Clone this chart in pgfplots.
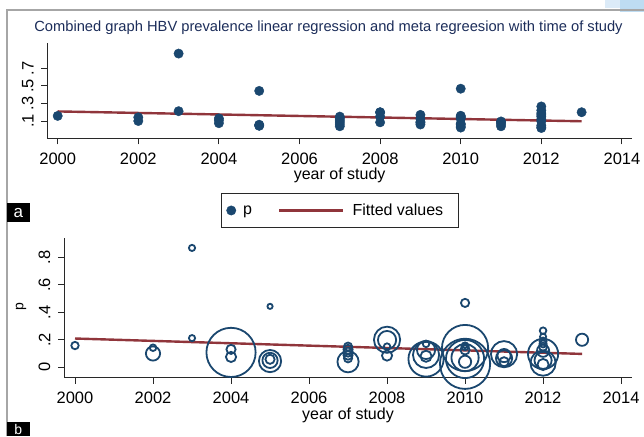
\documentclass[border=0pt]{standalone}
\usepackage{fontspec}
\setmainfont{Liberation Sans}
\usepackage{pgfplots}
\pgfplotsset{compat=1.18}
\usepackage{pgfplotstable}
\definecolor{navyc}{RGB}{26,71,111}
\definecolor{maroonc}{RGB}{144,53,59}
\definecolor{titlec}{RGB}{28,45,90}
\definecolor{axisc}{RGB}{40,40,40}
\definecolor{decoa}{RGB}{220,235,248}
\definecolor{decob}{RGB}{190,220,242}

\pgfplotstableread{
year p r
2000 0.158 4.6
2002 0.142 4.2
2002 0.100 8
2003 0.868 4
2003 0.212 4
2004 0.130 5.5
2004 0.075 6
2004 0.108 25.5
2005 0.443 3.5
2005 0.045 12
2005 0.050 8.5
2005 0.058 5.5
2007 0.150 5
2007 0.130 5.5
2007 0.110 5.5
2007 0.088 5.5
2007 0.065 5
2007 0.040 11.5
2008 0.200 14
2008 0.198 10
2008 0.150 4.2
2008 0.085 6
2009 0.170 4.2
2009 0.126 10
2009 0.090 14
2009 0.060 18.5
2009 0.080 6.5
2010 0.468 5
2010 0.140 24
2010 0.025 26
2010 0.060 20
2010 0.070 14.5
2010 0.040 7
2010 0.126 5.5
2010 0.150 4.5
2010 0.160 3.8
2011 0.095 14
2011 0.085 7.5
2011 0.065 9
2011 0.040 5.5
2012 0.266 4.2
2012 0.222 4
2012 0.190 4.5
2012 0.170 4.5
2012 0.150 5
2012 0.120 7
2012 0.097 16
2012 0.030 13.5
2012 0.050 9.5
2012 0.020 6.5
2013 0.200 7
}\studies

\pgfplotstableread{
year fit
2000 0.209
2013 0.097
}\fitted

\pgfplotsset{
  stata/.style={
    scale only axis,
    axis x line*=bottom, axis y line*=left,
    every outer x axis line/.append style={-},
    every outer y axis line/.append style={-},
    axis line style={axisc, line width=0.9pt, -},
    tick style={axisc, line width=0.9pt},
    tick align=outside,
    major tick length=6pt,
    xtick={2000,2002,2004,2006,2008,2010,2012,2014},
    xticklabels={2000,2002,2004,2006,2008,2010,2012,2014},
    tick label style={font=\fontsize{16.5}{18}\selectfont, inner sep=0pt},
    xticklabel style={anchor=north},
    xticklabel shift=8.5pt,
    yticklabel style={rotate=90, anchor=south},
    yticklabel shift=7.5pt,
    xlabel={year of study},
    label style={font=\fontsize{16}{18}\selectfont},
  }
}

\begin{document}
\begin{tikzpicture}[x=1pt,y=1pt]
\useasboundingbox (0,0) rectangle (644,436);
\fill[white] (0,0) rectangle (644,436);
\fill[decoa] (605,428) rectangle (644,436);
\fill[decob] (620,424) rectangle (644,436);
\draw[gray!70, line width=1.5pt] (7,0) -- (7,426) -- (644,426);

\node[anchor=base, text=titlec, font=\fontsize{14.7}{16}\selectfont, inner sep=0pt] at (328.5,404.7)
  {Combined graph HBV prevalence linear regression and meta regreesion with time of study};

% top panel
\begin{axis}[stata,
  at={(47.3pt,297.7pt)}, anchor=south west,
  width=584.7pt, height=95.6pt,
  xmin=1999.742, xmax=2014.25,
  ymin=-0.097, ymax=0.992,
  ytick={0.1,0.3,0.5,0.7},
  yticklabels={.1,.3,.5,.7},
  xlabel style={at={(axis description cs:0.5,-0.436)}, anchor=base},
  legend columns=2,
  legend style={at={(0.5,-0.755)}, anchor=center, draw=axisc, fill=white,
    font=\fontsize{16}{18}\selectfont, inner xsep=0.3pt, inner ysep=10.5pt,
    nodes={inner sep=0pt},
    /tikz/column 1/.style={column sep=1pt},
    /tikz/column 2/.style={column sep=26pt},
    /tikz/column 3/.style={column sep=8pt}},
]
\addplot[only marks, mark=*, mark size=4.7pt, color=navyc, mark options={draw=navyc, fill=navyc},
  legend image code/.code={\path[draw=none,fill=none] (0pt,-1pt) rectangle (21.2pt,1pt); \fill[navyc] (10.2pt,0pt) circle (4.7pt);}]
  table[x=year, y=p] {\studies};
\addlegendentry{p}
\addplot[maroonc, line width=2.4pt, no marks,
  legend image code/.code={\draw[maroonc, line width=2.4pt] (0pt,0pt) -- (64pt,0pt);}]
  table[x=year, y=fit] {\fitted};
\addlegendentry{Fitted values\rule{15pt}{0pt}}
\end{axis}

% bottom panel
\begin{axis}[stata,
  at={(64pt,58.3pt)}, anchor=south west,
  width=568pt, height=139.4pt,
  xmin=1999.718, xmax=2014.28,
  ymin=-0.076, ymax=0.938,
  clip=false,
  ytick={0,0.2,0.4,0.6,0.8},
  yticklabels={0,.2,.4,.6,.8},
  ylabel={p},
  every axis y label/.style={at={(axis description cs:-0.0757,0.509)}, anchor=center, rotate=90, font=\fontsize{14}{16}\selectfont},
  xlabel style={at={(axis description cs:0.5,-0.303)}, anchor=base},
]
\addplot[only marks, mark=o, scatter,
  point meta={\thisrow{r}},
  scatter/use mapped color={draw=navyc, fill=none},
  mark options={line width=1.8pt},
  visualization depends on={\thisrow{r}-0.9 \as \rr},
  scatter/@pre marker code/.append style={/tikz/mark size=\rr pt}]
  table[x=year, y=p] {\studies};
\addplot[maroonc, line width=2.4pt, no marks] table[x=year, y=fit] {\fitted};
\end{axis}

% panel tags
\fill[black] (7,214) rectangle (29.6,233);
\node[text=white, anchor=base, font=\fontsize{17}{18}\selectfont, inner sep=0pt] at (18.3,218.5) {a};
\fill[black] (7,0) rectangle (29.6,14.3);
\node[text=white, anchor=base, font=\fontsize{14}{16}\selectfont, inner sep=0pt] at (18.3,2) {b};
\end{tikzpicture}
\end{document}
